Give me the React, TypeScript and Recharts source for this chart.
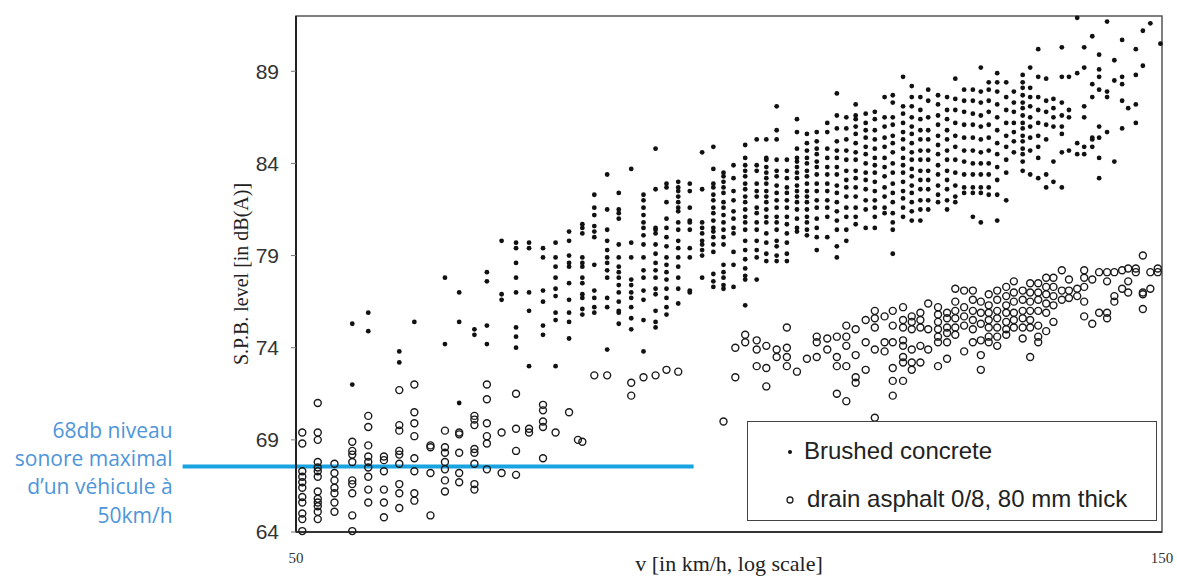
import React from 'react';
import { ScatterChart, Scatter, XAxis, YAxis, ReferenceLine, ReferenceArea, Legend } from 'recharts';

// Brushed concrete: one speed (km/h) per column, with the levels (dB(A)) measured in that column
const concreteSpeeds = [
  53.7, 54.8, 57.0, 58.1, 60.4, 61.5, 62.7, 63.7, 64.9, 66.1, 67.2, 68.4, 69.5, 70.7, 71.9, 73.0, 74.2, 75.3, 76.5, 77.7,
  78.9, 80.0, 81.2, 82.4, 83.7, 84.9, 86.0, 87.1, 88.4, 89.7, 90.8, 92.0, 93.2, 94.4, 95.6, 96.8, 98.1, 99.3, 100.5, 101.7,
  103.0, 104.2, 105.5, 106.6, 108.0, 109.2, 110.4, 111.5, 112.9, 114.2, 115.4, 116.7, 118.0, 119.2, 120.4, 121.7, 123.1,
  124.3, 125.7, 126.9, 128.2, 129.5, 130.7, 132.1, 133.3, 134.7, 135.9, 137.3, 138.5, 139.9, 141.2, 142.6, 143.7, 145.1,
  146.4, 147.8, 149.7,
];
const concreteLevels: number[][] = [
  [75.3, 72.0],
  [75.9, 74.9],
  [73.8, 73.2],
  [75.4],
  [77.8, 74.2],
  [77.0, 75.4, 71.0],
  [75.0, 74.7],
  [78.1, 77.6, 75.2, 74.2],
  [79.8, 76.9, 76.6],
  [79.7, 79.4, 78.6, 77.8, 77.0, 75.1, 74.6, 74.0],
  [79.7, 79.4, 77.0, 76.0, 73.0],
  [79.4, 78.9, 77.1, 76.5, 75.2, 74.7],
  [79.7, 78.9, 78.4, 77.8, 77.2, 76.8, 75.9, 75.5, 73.0],
  [80.3, 79.8, 79.0, 78.6, 78.4, 77.5, 76.6, 75.9, 75.4, 74.5],
  [80.7, 80.5, 80.2, 78.9, 78.6, 78.4, 77.8, 77.5, 76.9, 76.7, 76.1, 75.8],
  [82.3, 81.6, 81.2, 80.6, 80.3, 80.0, 78.5, 77.1, 76.7, 76.2, 75.9],
  [83.4, 81.5, 80.4, 79.8, 79.3, 78.9, 78.6, 78.2, 77.8, 76.7, 76.2, 73.9],
  [82.4, 81.5, 81.3, 81.0, 79.6, 78.9, 78.4, 78.1, 77.8, 77.4, 77.0, 76.5, 76.0, 75.9, 75.3],
  [83.7, 79.7, 78.9, 77.7, 77.4, 77.0, 76.7, 76.2, 75.6, 75.0],
  [82.3, 82.0, 81.6, 81.2, 80.8, 80.5, 80.1, 79.6, 78.9, 78.2, 77.8, 77.1, 76.6, 75.5, 73.8],
  [84.8, 82.6, 80.5, 80.4, 80.2, 79.6, 79.1, 78.6, 78.2, 77.8, 77.2, 76.9, 76.0, 75.4, 75.1],
  [82.9, 82.7, 81.9, 81.0, 80.5, 80.0, 79.5, 78.9, 78.5, 78.1, 77.7, 77.2, 76.7, 76.2, 75.8],
  [83.0, 82.7, 82.5, 82.2, 81.9, 81.6, 81.4, 80.8, 80.4, 79.8, 79.4, 78.9, 78.4, 77.8, 77.2, 76.4],
  [82.9, 82.5, 81.6, 80.9, 80.8, 80.4, 79.4, 78.9, 77.1, 77.0],
  [84.6, 82.6, 80.8, 80.5, 80.2, 79.8, 79.6, 79.3, 79.0, 77.8],
  [84.9, 83.7, 82.9, 82.7, 82.3, 82.0, 81.6, 81.3, 80.9, 80.5, 80.3, 80.0, 79.6, 79.2, 78.0, 77.6, 77.3],
  [83.5, 83.3, 83.0, 82.7, 82.4, 81.9, 81.6, 81.2, 80.8, 80.4, 80.0, 79.6, 78.5, 78.1, 77.8, 77.4, 77.2],
  [83.9, 83.2, 82.5, 82.0, 81.4, 81.0, 80.5, 80.2, 79.2, 78.5, 77.3],
  [85.0, 84.3, 83.9, 83.6, 83.3, 82.9, 82.6, 82.2, 81.9, 81.5, 81.1, 80.8, 80.4, 79.8, 79.3, 78.8, 78.3, 77.9, 77.7, 76.3],
  [85.3, 83.9, 83.6, 82.9, 82.5, 82.2, 81.6, 81.3, 80.8, 80.4, 79.8, 79.3, 78.9, 77.7],
  [85.3, 84.3, 84.2, 83.8, 83.5, 83.2, 82.9, 82.5, 82.2, 81.9, 81.5, 81.1, 80.8, 80.2, 79.7, 79.1, 78.7],
  [87.1, 85.8, 85.3, 84.2, 83.6, 83.3, 82.8, 82.4, 82.0, 81.6, 81.1, 80.8, 80.4, 79.8, 79.5, 79.0, 78.7],
  [84.2, 83.6, 83.2, 82.7, 82.4, 82.0, 81.6, 81.1, 80.7, 80.2, 79.7, 79.1, 78.7],
  [86.4, 85.7, 84.8, 84.3, 84.1, 83.8, 83.5, 83.2, 82.8, 82.5, 82.2, 81.9, 81.5, 81.0, 80.5, 80.3],
  [85.6, 85.1, 84.7, 84.3, 84.0, 83.6, 83.3, 82.9, 82.5, 82.2, 81.9, 81.5, 81.1, 80.8, 80.4, 80.1],
  [85.7, 85.2, 84.8, 84.5, 84.1, 83.8, 83.4, 82.9, 82.5, 82.0, 81.6, 81.0, 80.5, 80.0, 79.3],
  [86.2, 85.7, 84.8, 84.3, 83.8, 83.4, 82.9, 82.5, 82.0, 81.6, 81.1, 80.0],
  [87.8, 86.6, 85.9, 85.2, 84.7, 84.3, 83.8, 83.4, 82.8, 82.4, 81.9, 81.4, 80.9, 80.4, 79.5, 78.9],
  [86.5, 85.9, 85.3, 84.7, 84.2, 83.6, 83.1, 82.7, 82.2, 81.6, 81.1, 80.4, 79.8],
  [87.2, 86.6, 86.4, 86.0, 85.6, 85.1, 84.6, 84.2, 83.6, 83.2, 82.7, 82.2, 81.6, 81.1, 80.7],
  [86.7, 86.2, 85.8, 85.4, 84.9, 84.5, 84.0, 83.5, 83.1, 82.6, 82.0, 81.5, 80.5],
  [86.8, 86.4, 85.8, 85.3, 84.8, 84.3, 83.9, 83.5, 83.0, 82.5, 82.0, 81.6, 81.1, 80.5],
  [87.6, 86.5, 86.0, 85.4, 84.9, 84.3, 83.8, 83.3, 82.7, 82.2, 81.6, 81.3],
  [87.7, 87.3, 86.5, 86.1, 85.5, 85.1, 84.6, 84.0, 83.5, 82.9, 82.4, 81.9, 81.3, 80.8, 80.4, 79.1],
  [88.7, 87.1, 86.7, 86.2, 85.7, 85.3, 84.8, 84.3, 83.9, 83.5, 83.0, 82.5, 82.1, 81.6, 81.1],
  [88.2, 87.6, 87.1, 86.5, 86.0, 85.6, 85.1, 84.6, 84.2, 83.7, 83.3, 82.8, 82.4, 81.9, 81.4, 80.9],
  [87.6, 86.9, 86.4, 85.8, 85.3, 84.7, 84.2, 83.6, 83.1, 82.6, 82.0, 81.5, 80.9],
  [88.0, 87.4, 86.5, 85.8, 85.3, 84.7, 84.2, 83.6, 83.1, 82.6, 82.0, 81.5],
  [87.7, 87.2, 86.6, 86.1, 85.5, 85.0, 84.5, 83.9, 83.4, 82.8, 82.3, 81.9],
  [87.6, 86.9, 86.4, 85.8, 85.3, 84.7, 84.2, 83.6, 83.1, 82.6, 82.0, 81.5],
  [88.6, 87.5, 86.9, 86.2, 85.5, 84.9, 84.2, 83.5, 82.8, 82.2, 81.9],
  [88.0, 87.4, 86.8, 86.1, 85.4, 84.7, 84.1, 83.4, 82.7, 82.4],
  [88.0, 87.4, 86.7, 86.1, 85.4, 84.7, 84.0, 83.4, 82.7, 82.4, 81.1],
  [89.2, 87.9, 87.3, 86.6, 86.0, 85.3, 84.6, 84.0, 83.4, 82.7, 82.4, 80.8],
  [88.4, 88.0, 87.4, 86.8, 86.1, 85.4, 84.7, 84.0, 83.4, 82.7, 82.3],
  [88.9, 88.4, 87.9, 87.2, 86.5, 85.8, 85.1, 84.5, 83.8, 83.1, 82.3, 80.9],
  [88.4, 87.6, 86.9, 86.2, 85.5, 84.9, 84.2, 83.5, 82.0],
  [87.9, 87.3, 86.8, 86.2, 85.7, 85.2, 84.6],
  [88.8, 88.4, 88.1, 87.7, 87.3, 87.0, 86.6, 86.2, 85.9, 85.5, 85.2, 84.8, 84.5, 84.1, 83.6],
  [89.2, 88.1, 87.6, 87.1, 86.5, 86.0, 85.4, 84.7, 83.4],
  [90.2, 88.7, 87.6, 86.9, 86.2, 85.5, 84.9, 84.3, 83.2],
  [88.6, 87.4, 86.8, 86.1, 85.3, 83.4, 82.7],
  [87.5, 87.0, 86.5, 86.0, 84.1, 83.0],
  [90.3, 88.7, 87.3, 86.6, 86.0, 85.6, 84.6, 82.7],
  [88.7, 86.9, 86.5, 84.7],
  [91.9, 88.9, 85.1, 84.5],
  [90.3, 89.2, 87.1, 86.5, 84.9, 84.5],
  [90.9, 88.3, 87.6, 85.4, 85.3, 84.9],
  [89.9, 89.1, 88.7, 88.0, 86.0, 85.4, 84.3, 83.2],
  [91.7, 87.9, 87.6, 85.7],
  [89.6, 88.5, 84.1],
  [90.7, 88.7, 88.3, 87.4, 85.9],
  [87.0],
  [90.2, 88.8, 87.2, 86.2],
  [91.2, 89.3],
  [91.6],
  [90.5],
];

// Drain asphalt 0/8, 80 mm thick
const asphaltSpeeds = [
  50.4, 51.4, 52.5, 53.7, 54.8, 55.9, 57.0, 58.1, 59.3, 60.4, 61.5, 62.7, 63.7, 64.9, 66.1, 67.2, 68.4, 69.5, 70.7, 71.5,
  71.9, 73.0, 74.2, 76.5, 77.7, 78.9, 80.0, 81.2, 86.0, 87.3, 88.4, 89.7, 90.8, 92.0, 93.2, 94.4, 95.6, 96.8, 98.1, 99.3,
  100.5, 101.7, 103.0, 104.2, 105.5, 106.6, 108.0, 109.2, 110.4, 111.5, 112.9, 114.2, 115.4, 116.7, 118.0, 119.2, 120.4,
  121.7, 123.1, 124.3, 125.7, 126.9, 128.2, 129.5, 130.7, 132.1, 133.3, 134.7, 135.9, 137.3, 138.5, 139.9, 141.2, 142.6,
  143.7, 145.1, 146.4, 147.8, 149.2,
];
const asphaltLevels: number[][] = [
  [69.4, 68.8, 67.3, 67.0, 66.7, 66.4, 65.9, 65.6, 65.0, 64.7, 64.05],
  [71.0, 69.4, 69.0, 67.8, 67.5, 67.3, 67.0, 66.2, 65.8, 65.6, 65.4, 65.1, 64.7],
  [67.7, 67.2, 66.8, 66.4, 66.1, 65.6, 65.1],
  [68.9, 68.4, 68.2, 67.8, 66.8, 66.6, 66.1, 64.9, 64.05],
  [70.3, 69.7, 68.7, 68.1, 67.8, 67.5, 67.0, 66.3, 65.6],
  [68.1, 67.9, 67.3, 66.3, 65.6, 64.8],
  [71.7, 69.8, 69.5, 68.4, 68.2, 67.7, 66.6, 66.1, 65.3],
  [72.0, 70.5, 69.9, 69.2, 68.0, 67.3, 66.1, 65.7],
  [68.7, 68.6, 67.2, 64.9],
  [69.5, 68.6, 68.3, 67.8, 67.4, 66.8, 66.2],
  [69.4, 69.3, 68.3, 67.2, 66.7],
  [70.3, 70.1, 69.8, 68.5, 68.3, 67.7, 66.6, 66.3],
  [72.0, 71.2, 69.9, 69.2, 68.8, 67.4],
  [69.4, 67.2],
  [71.5, 69.6, 68.4, 67.1],
  [69.6, 69.4],
  [70.9, 70.6, 70.0, 69.7, 68.0],
  [69.4],
  [70.5],
  [69.0],
  [68.9],
  [72.5],
  [72.5],
  [72.1, 71.4],
  [72.4],
  [72.5],
  [72.8],
  [72.7],
  [70.0],
  [74.0, 72.4],
  [74.7, 74.3],
  [74.4, 73.9, 73.0],
  [74.1, 72.9, 71.9],
  [73.9, 73.5],
  [75.1, 74.0, 73.5, 73.0],
  [72.7],
  [73.4],
  [74.6, 74.3, 73.5],
  [74.5, 73.9],
  [74.6, 73.5, 73.0, 71.5],
  [75.2, 74.6, 74.1, 73.0, 71.1],
  [75.0, 73.6, 72.4, 72.1],
  [75.5, 74.3, 72.8],
  [76.0, 75.6, 75.1, 73.9, 70.2],
  [75.7, 74.3, 73.8],
  [76.0, 75.2, 74.3, 72.9, 72.2, 71.4],
  [76.2, 75.5, 75.1, 74.4, 74.1, 73.5, 73.2, 72.2],
  [75.7, 75.4, 75.0, 73.9, 73.2, 72.8],
  [75.9, 75.5, 75.1, 74.1, 73.2],
  [76.4, 75.0, 73.9],
  [76.2, 75.8, 75.4, 75.0, 74.6, 74.3, 73.0],
  [75.9, 75.6, 75.1, 74.8, 74.3, 73.4],
  [77.2, 76.5, 76.0, 75.6, 75.1, 74.7],
  [77.1, 76.2, 75.7, 75.2, 73.8],
  [77.1, 76.6, 76.0, 75.5, 75.0, 74.3],
  [76.5, 75.9, 75.3, 74.4, 73.6, 72.8],
  [76.9, 76.3, 75.9, 75.5, 75.1, 74.6, 74.3],
  [77.1, 76.6, 76.0, 75.6, 75.1, 74.6, 74.1],
  [77.3, 76.8, 76.3, 75.9, 75.4, 75.0, 74.7],
  [77.6, 77.0, 76.5, 75.9, 75.5, 75.1],
  [77.1, 76.6, 76.0, 75.6, 75.1, 74.5],
  [77.5, 77.0, 76.5, 76.0, 75.5, 75.1, 73.5],
  [77.5, 77.0, 76.6, 76.0, 75.2, 74.6, 74.3],
  [77.8, 77.3, 76.9, 76.4, 75.9, 74.9],
  [77.8, 77.3, 76.8, 76.3, 75.4],
  [78.2, 77.1, 76.6],
  [77.7, 77.1, 76.7],
  [77.2, 76.8],
  [78.2, 77.8, 77.3, 76.5, 75.7],
  [77.7, 75.3],
  [78.1, 75.9],
  [78.1, 77.6, 75.9, 75.6],
  [78.1, 76.8, 76.5],
  [78.2, 77.2],
  [78.3, 77.6, 77.0],
  [78.3, 78.1],
  [79.0, 77.0, 76.9, 76.1],
  [78.1, 77.2],
  [78.3, 78.1],
];

const seriesNames = ['Brushed concrete', 'drain asphalt 0/8, 80 mm thick'];
const yTicks = [64, 69, 74, 79, 84, 89];
const xTicks = [50, 150];
const xDomain = [50, 150];
const yDomain = [64, 92];
const limitLevel = 67.55;
const limitSpan = [43.3, 82.8];
const noteLines = ['68db niveau', 'sonore maximal', 'd\u2019un véhicule à', '50km/h'];
const xTitle = 'v [in km/h, log scale]';
const yTitle = 'S.P.B. level [in dB(A)]';

type Pt = { v: number; L: number };
function toPoints(speeds: number[], levels: number[][]): Pt[] {
  const out: Pt[] = [];
  speeds.forEach((s, i) => (levels[i] || []).forEach((l) => out.push({ v: s, L: l })));
  return out;
}

const concreteData = toPoints(concreteSpeeds, concreteLevels);
const asphaltData = toPoints(asphaltSpeeds, asphaltLevels);

const FilledDot = (p: any) => <circle cx={p.cx} cy={p.cy} r={2.4} fill="#111" />;
const OpenRing = (p: any) => (
  <circle cx={p.cx} cy={p.cy} r={3.5} fill="none" stroke="#1a1a1a" strokeWidth={1.4} />
);

const NoteLabel = (props: any) => {
  const vb = props.viewBox || {};
  const x = (vb.x ?? 0) - 10;
  const y = vb.y ?? 0;
  const offsets = [-36.7, -8.7, 19.3, 48.3];
  return (
    <text
      x={x}
      y={y}
      textAnchor="end"
      fill="#4E95D9"
      style={{ fontFamily: '"Open Sans", "Noto Sans", sans-serif', fontSize: 21 }}
    >
      {noteLines.map((t, i) => (
        <tspan key={i} x={x} y={y + offsets[i]} dominantBaseline="central">
          {t}
        </tspan>
      ))}
    </text>
  );
};

const LegendBox = () => (
  <div
    style={{
      position: 'relative',
      width: 410,
      height: 100,
      boxSizing: 'border-box',
      border: '1.5px solid #444',
      background: '#fff',
      fontFamily: '"Liberation Sans", Arial, sans-serif',
      fontSize: 24,
      color: '#222',
    }}
  >
    <svg width={410} height={100} style={{ position: 'absolute', left: 0, top: 0 }}>
      <circle cx={42} cy={30} r={2} fill="#111" />
      <circle cx={42} cy={78} r={3} fill="none" stroke="#222" strokeWidth={1.3} />
    </svg>
    <span style={{ position: 'absolute', left: 56, top: 15, lineHeight: '28px', whiteSpace: 'nowrap' }}>
      {seriesNames[0]}
    </span>
    <span style={{ position: 'absolute', left: 59, top: 63, lineHeight: '28px', whiteSpace: 'nowrap' }}>
      {seriesNames[1]}
    </span>
  </div>
);

export default function App() {
  return (
    <div style={{ position: 'absolute', left: 0, top: 0, width: 1177, height: 578, background: '#fff' }}>
      <ScatterChart width={1177} height={578} margin={{ top: 16, right: 15, bottom: 0, left: 0 }}>
        <ReferenceArea
          x1={xDomain[0]}
          x2={xDomain[1]}
          y1={yDomain[0]}
          y2={yDomain[1]}
          fill="none"
          stroke="#555"
          strokeWidth={1.5}
          ifOverflow="visible"
        />
        <XAxis
          dataKey="v"
          type="number"
          scale="log"
          domain={xDomain}
          ticks={xTicks}
          height={46}
          tickSize={0}
          tickMargin={20}
          tickLine={false}
          axisLine={{ stroke: '#333', strokeWidth: 2 }}
          tick={{ fontFamily: '"Liberation Serif", serif', fontSize: 15, fill: '#333' }}
          label={{
            value: xTitle,
            position: 'insideBottom',
            offset: 7,
            style: { fontFamily: '"Liberation Serif", serif', fontSize: 22, fill: '#222' },
          }}
        />
        <YAxis
          dataKey="L"
          type="number"
          domain={yDomain}
          ticks={yTicks}
          width={296}
          tickSize={5}
          tickMargin={12}
          tickLine={{ stroke: '#777' }}
          axisLine={{ stroke: '#222', strokeWidth: 2 }}
          tick={{ fontFamily: '"Liberation Sans", Arial, sans-serif', fontSize: 21, fill: '#333' }}
          label={{
            value: yTitle,
            angle: -90,
            position: 'insideLeft',
            offset: 241,
            style: { textAnchor: 'middle', fontFamily: '"Liberation Serif", serif', fontSize: 20, fill: '#222' },
          }}
        />
        <Scatter name={seriesNames[0]} data={concreteData} shape={FilledDot} isAnimationActive={false} />
        <Scatter name={seriesNames[1]} data={asphaltData} shape={OpenRing} isAnimationActive={false} />
        <ReferenceLine
          segment={[
            { x: limitSpan[0], y: limitLevel },
            { x: limitSpan[1], y: limitLevel },
          ]}
          stroke="#19A3E0"
          strokeWidth={4}
          ifOverflow="visible"
          label={{ content: NoteLabel }}
        />
        <Legend
          layout="horizontal"
          verticalAlign="middle"
          align="center"
          wrapperStyle={{ position: 'absolute', left: 747, top: 421, width: 410, height: 100, margin: 0 }}
          content={() => <LegendBox />}
        />
      </ScatterChart>
    </div>
  );
}
